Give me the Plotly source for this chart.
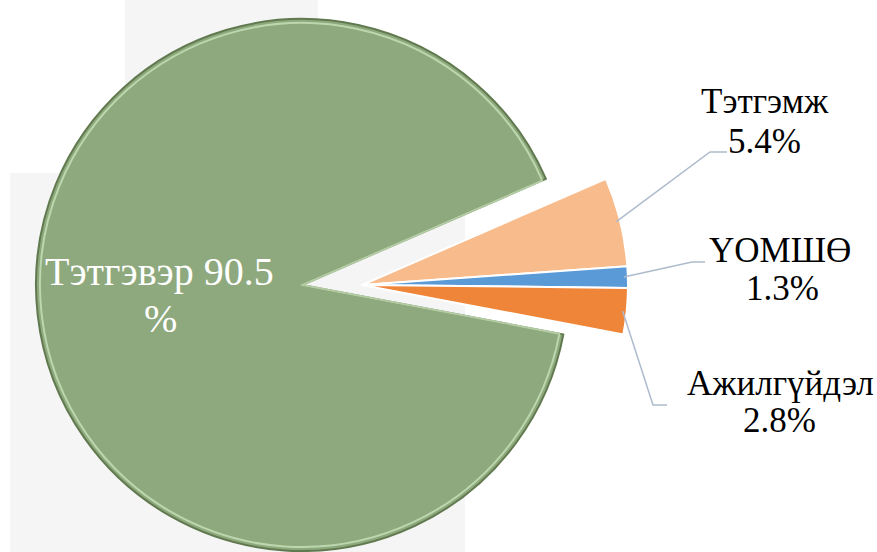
import math
import plotly.graph_objects as go

# ---- data ----
labels = ["Тэтгэмж", "ҮОМШӨ", "Ажилгүйдэл", "Тэтгэвэр"]
values = [5.4, 1.3, 2.8, 90.5]
colors = ["#F8BC8C", "#5A9AD6", "#EF8538", "#8EA97D"]

# ---- layout constants (pixels) ----
W, H = 877, 552
CX, CY, R = 302, 285, 266      # main pie centre / radius
SHIFT = 60                     # horizontal explode of the small slices
ROT = 66.5                     # start angle, degrees clockwise from 12 o'clock
FONT = "Tinos, 'Liberation Serif', 'Times New Roman', 'DejaVu Serif', serif"
FS = 35
FS_BIG = 40


def px(x):
    return x / W


def py(y):
    return 1 - y / H


is_big = [v == max(values) for v in values]
transparent = "rgba(0,0,0,0)"

fig = go.Figure()

# main (large) slice
fig.add_trace(go.Pie(
    labels=labels, values=values, sort=False, direction="clockwise",
    rotation=ROT, textinfo="none", hoverinfo="label+percent",
    marker=dict(colors=[c if b else transparent for c, b in zip(colors, is_big)],
                line=dict(color=["#61794F" if b else transparent for b in is_big], width=2)),
    domain=dict(x=[px(CX - R), px(CX + R)], y=[py(CY + R), py(CY - R)]),
    showlegend=False,
))

# bevel highlight of the large slice
RI = R - 4
fig.add_trace(go.Pie(
    labels=labels, values=values, sort=False, direction="clockwise",
    rotation=ROT, textinfo="none", hoverinfo="skip",
    marker=dict(colors=[transparent] * len(values),
                line=dict(color=["rgba(200,225,185,0.8)" if b else transparent for b in is_big],
                          width=2)),
    domain=dict(x=[px(CX - RI), px(CX + RI)], y=[py(CY + RI), py(CY - RI)]),
    showlegend=False,
))

# exploded small slices
fig.add_trace(go.Pie(
    labels=labels, values=values, sort=False, direction="clockwise",
    rotation=ROT, textinfo="none", hoverinfo="label+percent",
    marker=dict(colors=[transparent if b else c for c, b in zip(colors, is_big)],
                line=dict(color=[transparent if b else "white" for b in is_big], width=2)),
    domain=dict(x=[px(CX + SHIFT - R), px(CX + SHIFT + R)], y=[py(CY + R), py(CY - R)]),
    showlegend=False,
))

# label layout: (name centre x, name mid y, value centre x, value mid y, elbow x, elbow y, end x)
label_pos = {
    "Тэтгэмж":    (765, 101, 764, 141, 710, 152, 727),
    "ҮОМШӨ":      (780, 250, 782, 288, 692, 262, 705),
    "Ажилгүйдэл": (780, 383, 779, 421, 653, 405, 667),
}

annotations = []
shapes = []

# faint watermark background
shapes.append(dict(type="rect", xref="paper", yref="paper", layer="below",
                   x0=px(10), x1=px(465), y0=py(552), y1=py(173),
                   fillcolor="#F5F5F5", line=dict(width=0)))
shapes.append(dict(type="rect", xref="paper", yref="paper", layer="below",
                   x0=px(125), x1=px(318), y0=py(173), y1=py(0),
                   fillcolor="#F5F5F5", line=dict(width=0)))


def text_ann(x, y, text, color, size=FS):
    return dict(x=px(x), y=py(y), xref="paper", yref="paper", text=text,
                showarrow=False, xanchor="center", yanchor="middle",
                font=dict(family=FONT, size=size, color=color))


total = sum(values)
cum = 0.0
for lab, v, b in zip(labels, values, is_big):
    mid = ROT + (cum + v / 2) / total * 360.0   # clockwise from top
    cum += v
    if b:
        annotations.append(text_ann(159, 271, f"{lab} {v}", "white", FS_BIG))
        annotations.append(text_ann(160, 318, "%", "white", FS_BIG))
        continue
    a = math.radians(mid)
    ex = CX + SHIFT + R * math.sin(a) - 4
    ey = CY - R * math.cos(a)
    nx, ny, vx, vy, kx, ky, endx = label_pos[lab]
    shapes.append(dict(type="path", xref="paper", yref="paper",
                       path=f"M {px(ex)} {py(ey)} L {px(kx)} {py(ky)} L {px(endx)} {py(ky)}",
                       line=dict(color="#AEBBCC", width=1.5)))
    annotations.append(text_ann(nx, ny, lab, "black"))
    annotations.append(text_ann(vx, vy, f"{v}%", "black"))

fig.update_layout(
    width=W, height=H,
    margin=dict(l=0, r=0, t=0, b=0),
    paper_bgcolor="white", plot_bgcolor="white",
    annotations=annotations, shapes=shapes,
)

fig.write_html("out.html", config={"displayModeBar": False},
               post_script="document.body.style.margin='0';document.body.style.overflow='hidden';")
